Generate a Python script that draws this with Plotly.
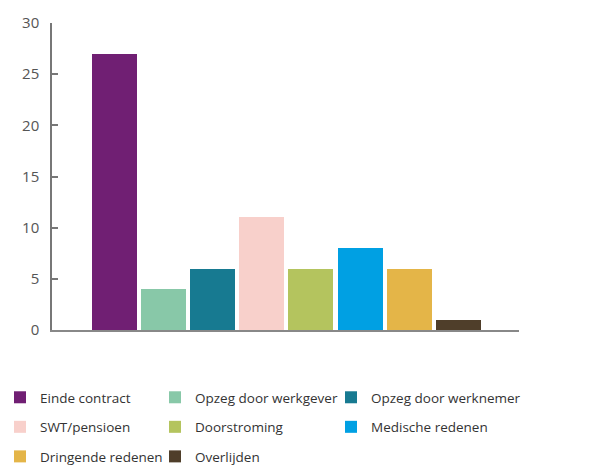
import plotly.graph_objects as go

categories = ["Einde contract", "Opzeg door werkgever", "Opzeg door werknemer",
              "SWT/pensioen", "Doorstroming", "Medische redenen",
              "Dringende redenen", "Overlijden"]
values = [27, 4, 6, 11, 6, 8, 6, 1]
colors = ["#701f73", "#88c8a8", "#177a91", "#f8d0cb", "#b4c45e", "#00a0e3", "#e4b548", "#4f3e2a"]
legend_cols = ["legend", "legend2", "legend3", "legend", "legend2", "legend3", "legend", "legend2"]
y_ticks = [0, 5, 10, 15, 20, 25, 30]

fig = go.Figure()
for i, (c, v, col, lg) in enumerate(zip(categories, values, colors, legend_cols)):
    fig.add_trace(go.Bar(x=[i], y=[v], name=c, marker=dict(color=col, line=dict(width=0)),
                         width=0.916, legend=lg, legendgroup=c, hoverinfo="y+name"))

W, H = 602, 467

leg_common = dict(orientation="v", yanchor="top", yref="container", y=1 - 382 / H,
                  xanchor="left", xref="container",
                  font=dict(family="Open Sans", size=13.5, color="#333333"),
                  tracegroupgap=9, bgcolor="rgba(0,0,0,0)", itemwidth=30)

fig.update_layout(
    width=W, height=H,
    margin=dict(l=52, r=83, t=23, b=137, autoexpand=False),
    plot_bgcolor="white", paper_bgcolor="white",
    font=dict(family="Open Sans", size=15, color="#555555"),
    bargap=0,
    xaxis=dict(range=[-1.273, 8.238], showticklabels=False, ticks="", showgrid=False,
               zeroline=False, showline=True, linecolor="#888888", linewidth=2),
    yaxis=dict(range=[0, 30], tickvals=y_ticks, ticks="inside", ticklen=6, tickcolor="#777777",
               tickwidth=1.5, showgrid=False, zeroline=False, showline=True,
               linecolor="#777777", linewidth=1.5, ticklabelstandoff=8,
               tickfont=dict(family="Open Sans", size=15, color="#555555")),
    legend=dict(x=0.0, **leg_common),
    legend2=dict(x=155 / W, **leg_common),
    legend3=dict(x=331 / W, **leg_common),
    showlegend=True,
)

fig.write_html("out.html", post_script="document.body.style.margin='0';",
               config={"displayModeBar": False})
